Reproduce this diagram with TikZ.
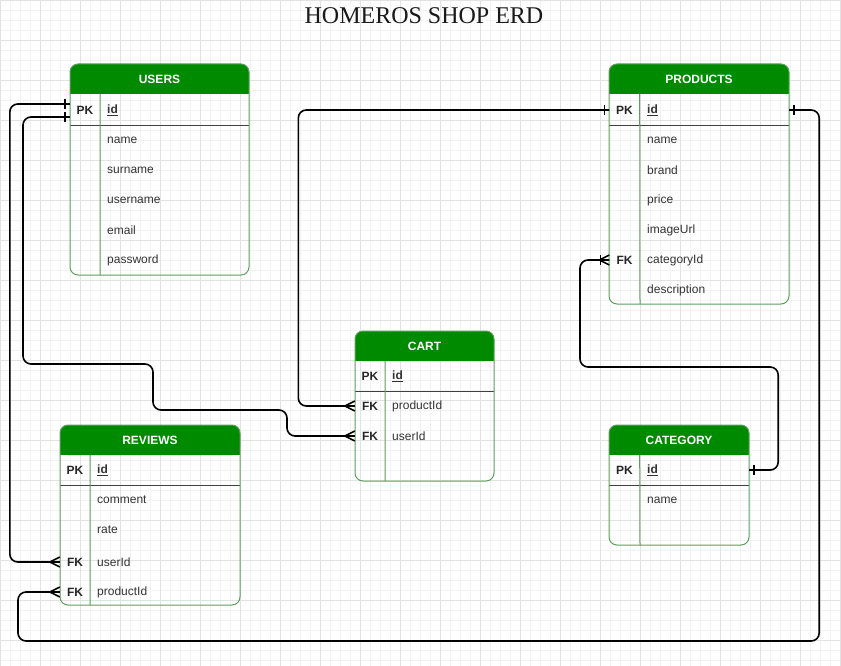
\documentclass[tikz,border=0pt]{standalone}
\usepackage{fontspec}
\setmainfont{Liberation Sans}
\newfontfamily\titlefont{Liberation Serif}
\usetikzlibrary{calc,decorations.markings}

\definecolor{headgreen}{HTML}{008A00}
\definecolor{tablegreen}{HTML}{5E9E5E}
\definecolor{gridminor}{HTML}{F2F2F2}
\definecolor{gridmajor}{HTML}{E2E2E2}

\tikzset{
  box/.style={draw=tablegreen, line width=1pt, rounded corners=8pt},
  head/.style={fill=headgreen},
  tabletitle/.style={minimum height=30pt, inner sep=0pt, text=white, font=\bfseries\fontsize{12}{14}\selectfont},
  key/.style={minimum width=30pt, minimum height=30pt, inner sep=0pt, text=black!85, font=\bfseries\fontsize{12}{14}\selectfont},
  field/.style={anchor=west, minimum height=30pt, inner xsep=7pt, text=black!80, font=\fontsize{12}{14}\selectfont},
  pkline/.style={draw=black!75, line width=1.2pt},
  keyline/.style={draw=tablegreen, line width=1pt},
  rel/.style={draw=black, line width=1.6pt, rounded corners=8pt},
  one/.style={postaction={decorate, decoration={markings,
    mark=at position 5pt with {\draw[line width=1.6pt] (0,-5pt) -- (0,5pt);}}}},
  many/.style={postaction={decorate, decoration={markings,
    mark=at position 1 with {\draw[line width=1.6pt] (-10pt,0) -- (0,5pt) (-10pt,0) -- (0,-5pt);}}}},
  onemany/.style={many, postaction={decorate, decoration={markings,
    mark=at position -9pt with {\draw[line width=1.6pt] (0,-5pt) -- (0,5pt);}}}},
}

\begin{document}
\begin{tikzpicture}[x=1pt, y=-1pt]
  \useasboundingbox (0,0) rectangle (841,666);
  \fill[white] (0,0) rectangle (841,666);

  % grid
  \foreach \gx in {0,10,...,840} \draw[gridminor, line width=0.6pt] (\gx,0) -- (\gx,666);
  \foreach \gy in {0,10,...,660} \draw[gridminor, line width=0.6pt] (0,\gy) -- (841,\gy);
  \foreach \gx in {0,40,...,840} \draw[gridmajor, line width=0.6pt] (\gx,0) -- (\gx,666);
  \foreach \gy in {0,40,...,660} \draw[gridmajor, line width=0.6pt] (0,\gy) -- (841,\gy);

  \node[font=\titlefont\fontsize{24}{28}\selectfont, text=black!90] (title) at (424,16) {HOMEROS SHOP ERD};

  % USERS
  \fill[head, rounded corners=8pt] (70,64) rectangle (249,94);
  \fill[head] (70,80) rectangle (249,94);
  \node[tabletitle, minimum width=179pt] (users) at (159.5,79) {USERS};
  \node[key] (users-pk) at (85,110) {PK};
  \node[field] (users-id) at (100,110) {\underline{\textbf{id}}};
  \foreach \f [count=\i] in {name,surname,username,email,password}
    \node[field] (users-\f) at (100,110+30*\i) {\f};
  \draw[pkline] (users-pk.south west) -- (users-pk.south west -| users.east);
  \draw[keyline] (users.south -| users-pk.east) -- (100,275);
  \draw[box] (70,64) rectangle (249,275);

  % PRODUCTS
  \fill[head, rounded corners=8pt] (609,64) rectangle (789,94);
  \fill[head] (609,80) rectangle (789,94);
  \node[tabletitle, minimum width=180pt] (products) at (699,79) {PRODUCTS};
  \node[key] (products-pk) at (624.5,110) {PK};
  \node[field] (products-id) at (640,110) {\underline{\textbf{id}}};
  \foreach \f [count=\i] in {name,brand,price,imageUrl,categoryId,description}
    \node[field] (products-\f) at (640,110+30*\i) {\f};
  \node[key] (products-fkcategory) at (624.5,260) {FK};
  \draw[pkline] (products-pk.south west) -- (products-pk.south west -| products.east);
  \draw[keyline] (products.south -| products-pk.east) -- (640,304);
  \draw[box] (609,64) rectangle (789,304);

  % CART
  \fill[head, rounded corners=8pt] (355,331) rectangle (494,361);
  \fill[head] (355,347) rectangle (494,361);
  \node[tabletitle, minimum width=139pt] (cart) at (424.5,346) {CART};
  \node[key] (cart-pk) at (370,376) {PK};
  \node[field] (cart-id) at (385,376) {\underline{\textbf{id}}};
  \node[key] (cart-fkproduct) at (370,406) {FK};
  \node[field] (cart-productId) at (385,406) {productId};
  \node[key] (cart-fkuser) at (370,436) {FK};
  \node[field] (cart-userId) at (385,436) {userId};
  \draw[pkline] (cart-pk.south west) -- (cart-pk.south west -| cart.east);
  \draw[keyline] (cart.south -| cart-pk.east) -- (385,481);
  \draw[box] (355,331) rectangle (494,481);

  % REVIEWS
  \fill[head, rounded corners=8pt] (60,425) rectangle (240,455);
  \fill[head] (60,441) rectangle (240,455);
  \node[tabletitle, minimum width=180pt] (reviews) at (150,440) {REVIEWS};
  \node[key] (reviews-pk) at (75,470) {PK};
  \node[field] (reviews-id) at (90,470) {\underline{\textbf{id}}};
  \node[field] (reviews-comment) at (90,500) {comment};
  \node[field] (reviews-rate) at (90,530) {rate};
  \node[key] (reviews-fkuser) at (75,562) {FK};
  \node[field] (reviews-userId) at (90,562) {userId};
  \node[key] (reviews-fkproduct) at (75,592) {FK};
  \node[field] (reviews-productId) at (90,592) {productId};
  \draw[pkline] (reviews-pk.south west) -- (reviews-pk.south west -| reviews.east);
  \draw[keyline] (reviews.south -| reviews-pk.east) -- (90,605);
  \draw[box] (60,425) rectangle (240,605);

  % CATEGORY
  \fill[head, rounded corners=8pt] (609,425) rectangle (749,455);
  \fill[head] (609,441) rectangle (749,455);
  \node[tabletitle, minimum width=140pt] (category) at (679,440) {CATEGORY};
  \node[key] (category-pk) at (624.5,470) {PK};
  \node[field] (category-id) at (640,470) {\underline{\textbf{id}}};
  \node[field] (category-name) at (640,500) {name};
  \draw[pkline] (category-pk.south west) -- (category-pk.south west -| category.east);
  \draw[keyline] (category.south -| category-pk.east) -- (640,545);
  \draw[box] (609,425) rectangle (749,545);

  % relations
  \draw[rel, one, many] ($(users-pk.west)+(0,-6)$) -- ++(-60,0) |- (reviews-fkuser.west);
  \draw[rel, one, many] ($(users-pk.west)+(0,7)$) -| (23,364) -| (153,410) -| (287,436) -- (cart-fkuser.west);
  \draw[rel, one, many] (products-pk.west) -- ++(-311,0) |- (cart-fkproduct.west);
  \draw[rel, one, many] (products-pk -| products.east) -- ++(30,0) |- (18,641) |- (reviews-fkproduct.west);
  \draw[rel, one, onemany] (category-pk -| category.east) -- ++(29,0) |- (580,367) |- (products-fkcategory.west);
\end{tikzpicture}
\end{document}
